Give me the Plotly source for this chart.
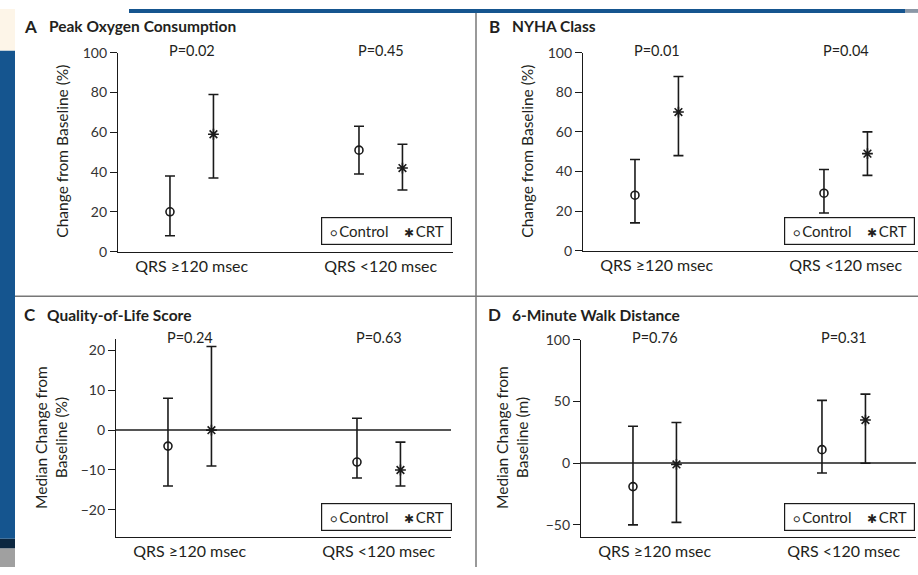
import plotly.graph_objects as go

W, H = 918, 575

# ---------------- data ----------------
categories = ["QRS \u2265120 msec", "QRS <120 msec"]

panel_letters = ["A", "B", "C", "D"]
panel_titles = ["Peak Oxygen Consumption", "NYHA Class", "Quality-of-Life Score", "6-Minute Walk Distance"]
y_titles = ["Change from Baseline (%)", "Change from Baseline (%)",
            "Median Change from<br>Baseline (%)", "Median Change from<br>Baseline (m)"]
p_values = [["P=0.02", "P=0.45"], ["P=0.01", "P=0.04"], ["P=0.24", "P=0.63"], ["P=0.76", "P=0.31"]]
legend_labels = ["Control", "CRT"]

A_control = [20, 51]; A_control_lo = [8, 39];   A_control_hi = [38, 63]
A_crt = [59, 42];     A_crt_lo = [37, 31];      A_crt_hi = [79, 54]
B_control = [28, 29]; B_control_lo = [14, 19];  B_control_hi = [46, 41]
B_crt = [70, 49];     B_crt_lo = [48, 38];      B_crt_hi = [88, 60]
C_control = [-4, -8]; C_control_lo = [-14, -12]; C_control_hi = [8, 3]
C_crt = [0, -10];     C_crt_lo = [-9, -14];     C_crt_hi = [21, -3]
D_control = [-19, 11]; D_control_lo = [-50, -8]; D_control_hi = [30, 51]
D_crt = [-1, 35];     D_crt_lo = [-48, 0];      D_crt_hi = [33, 56]

y_ticks = [[0, 20, 40, 60, 80, 100], [0, 20, 40, 60, 80, 100],
           [-20, -10, 0, 10, 20], [-50, 0, 50, 100]]
y_ranges = [[0, 100], [0, 100], [-26.8, 22.9], [-59.8, 100]]

panels = [
    (A_control, A_control_lo, A_control_hi, A_crt, A_crt_lo, A_crt_hi),
    (B_control, B_control_lo, B_control_hi, B_crt, B_crt_lo, B_crt_hi),
    (C_control, C_control_lo, C_control_hi, C_crt, C_crt_lo, C_crt_hi),
    (D_control, D_control_lo, D_control_hi, D_crt, D_crt_lo, D_crt_hi),
]

# ---------------- layout geometry (pixels) ----------------
geo = [(118, 45, 250), (583, 45, 249), (116, 340, 544), (581, 341, 544)]
x_range = [0.61, 2.38]
px_per_unit = 189.0
group_x = [1, 2]
offset = 0.115

FONT = "Lato"
TXT = "#231f20"

def px(x):
    return x / W

def py(y):
    return 1 - y / H

fig = go.Figure()
layout = dict(width=W, height=H, margin=dict(l=0, r=0, t=0, b=0),
              paper_bgcolor="white", plot_bgcolor="rgba(0,0,0,0)",
              font=dict(family=FONT, color=TXT, size=12), showlegend=False)
annotations = []
shapes = []

for i, (ctl, ctl_lo, ctl_hi, crt, crt_lo, crt_hi) in enumerate(panels):
    n = "" if i == 0 else str(i + 1)
    left, top, bot = geo[i]
    right = left + (x_range[1] - x_range[0]) * px_per_unit
    layout["xaxis" + n] = dict(domain=[px(left), min(px(right), 1)], range=x_range,
                               anchor="y" + n, showline=True, linecolor="#1a1a1a", linewidth=1.3,
                               showgrid=False, zeroline=False, ticks="",
                               tickvals=group_x, ticktext=categories,
                               tickfont=dict(size=16, color=TXT, family=FONT),
                               ticklabelstandoff=0)
    zl = i >= 2
    layout["yaxis" + n] = dict(domain=[py(bot), py(top)], range=y_ranges[i],
                               anchor="x" + n, showline=True, linecolor="#1a1a1a", linewidth=1.3,
                               showgrid=False, zeroline=zl, zerolinecolor="#555555", zerolinewidth=1.5,
                               ticks="outside", ticklen=7, tickwidth=1.2, tickcolor="#1a1a1a",
                               tickvals=y_ticks[i], tickfont=dict(size=14, color="#333333", family=FONT),
                               ticklabelstandoff=0)

    xa = "x" + n
    ya = "y" + n
    fig.add_trace(go.Scatter(
        x=[g - offset for g in group_x], y=ctl, xaxis=xa, yaxis=ya, mode="markers",
        name=legend_labels[0],
        marker=dict(symbol="circle-open", size=8, color="#1a1a1a", line=dict(width=1.6)),
        error_y=dict(type="data", symmetric=False,
                     array=[h - v for h, v in zip(ctl_hi, ctl)],
                     arrayminus=[v - l for l, v in zip(ctl_lo, ctl)],
                     color="#1a1a1a", thickness=1.6, width=5)))
    fig.add_trace(go.Scatter(
        x=[g + offset for g in group_x], y=crt, xaxis=xa, yaxis=ya, mode="markers",
        name=legend_labels[1],
        marker=dict(symbol="asterisk-open", size=9, color="#1a1a1a", line=dict(width=1.6, color="#1a1a1a")),
        error_y=dict(type="data", symmetric=False,
                     array=[h - v for h, v in zip(crt_hi, crt)],
                     arrayminus=[v - l for l, v in zip(crt_lo, crt)],
                     color="#1a1a1a", thickness=1.6, width=5)))

    # boxed key (legend) as text
    leg_right = 452 if i % 2 == 0 else 915
    leg_bot = 243 if i < 2 else 538
    annotations.append(dict(
        x=px(leg_right), y=py(leg_bot), xref="paper", yref="paper", xanchor="right", yanchor="bottom",
        showarrow=False, bordercolor="#1a1a1a", borderwidth=1.2, borderpad=4, bgcolor="white",
        text="&nbsp;<span style='font-size:11px'>\u25cb</span>\u2009" + legend_labels[0]
             + "&nbsp;&nbsp;&nbsp;&nbsp;<span style='font-size:12px'>\u2731</span>\u2009" + legend_labels[1] + "&nbsp;",
        font=dict(size=15, color=TXT, family=FONT)))

    # P values
    for g, ptxt in zip(group_x, p_values[i]):
        annotations.append(dict(x=g, xref=xa, y=py(top - 2), yref="paper", text=ptxt,
                                showarrow=False, xanchor="center", yanchor="middle",
                                font=dict(size=14.5, color=TXT, family=FONT)))

# panel titles
title_pos = [(22, 47, 18), (487, 510, 18), (22, 45, 315), (486, 510, 315)]
for i, (lx, tx, ty) in enumerate(title_pos):
    annotations.append(dict(x=px(lx), y=py(ty), xref="paper", yref="paper", xanchor="left",
                            yanchor="middle", showarrow=False, text="<b>" + panel_letters[i] + "</b>",
                            font=dict(size=17, color=TXT, family=FONT)))
    annotations.append(dict(x=px(tx), y=py(ty), xref="paper", yref="paper", xanchor="left",
                            yanchor="middle", showarrow=False, text="<b>" + panel_titles[i] + "</b>",
                            font=dict(size=15.5, color=TXT, family=FONT)))

# y-axis titles
ytitle_pos = [(62, 147), (527, 147), (51, 442), (512, 442)]
for i, (xx, yy) in enumerate(ytitle_pos):
    annotations.append(dict(x=px(xx), y=py(yy), xref="paper", yref="paper", xanchor="center",
                            yanchor="middle", showarrow=False, text=y_titles[i], textangle=-90,
                            font=dict(size=15.5, color=TXT, family=FONT)))

# background / slide decoration and dividers
BLUE = "#15558f"
def rect(x0, y0, x1, y1, color):
    shapes.append(dict(type="rect", xref="paper", yref="paper", x0=px(x0), x1=px(x1),
                       y0=py(y1), y1=py(y0), fillcolor=color, line=dict(width=0), layer="below"))

rect(0, 0, 15, 43, "#fdf5e8")
rect(0, 43, 15, 546, BLUE)
rect(0, 546, 15, 556, "#0c2740")
rect(0, 556, 15, 575, "#a0a0a0")
rect(129, 0, 905, 4, BLUE)
rect(905, 0, 918, 4, "#8a97a6")

shapes.append(dict(type="line", xref="paper", yref="paper", x0=px(476), x1=px(476), y0=0, y1=py(4),
                   line=dict(color="#777777", width=1.5)))
shapes.append(dict(type="line", xref="paper", yref="paper", x0=px(15), x1=1, y0=py(296), y1=py(296),
                   line=dict(color="#777777", width=1.5)))

layout["annotations"] = annotations
layout["shapes"] = shapes
fig.update_layout(**layout)

fig.write_html("out.html")
